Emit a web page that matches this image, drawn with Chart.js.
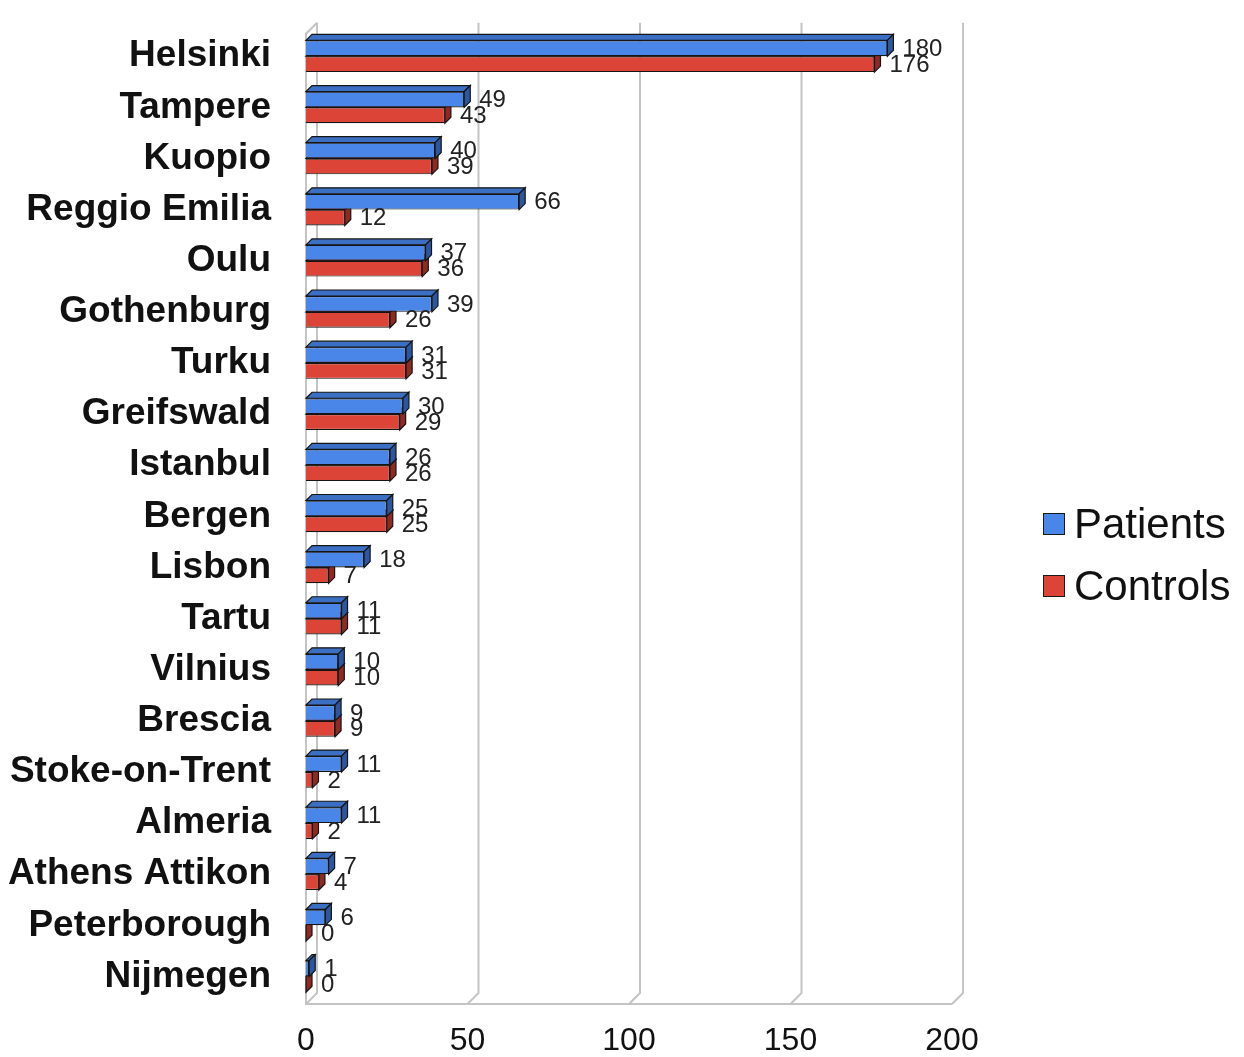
<!DOCTYPE html>
<html>
<head>
  <meta charset="UTF-8">
  <title>Patients and controls per centre</title>
  <script src="https://cdn.jsdelivr.net/npm/chart.js"></script>
  <style>
    body { margin: 0; background: #fff; }
    #wrap { position: relative; width: 1244px; height: 1057px; }
    .leg { position: absolute; left: 1043px; font: 42px "Liberation Sans", Arial, sans-serif; color: #111; display: flex; align-items: center; }
    .leg span { display: inline-block; width: 20px; height: 20px; border: 1.5px solid #1a1a1a; margin-right: 9px; }
  </style>
</head>
<body>
  <div id="wrap">
    <canvas id="chart" width="1244" height="1057"></canvas>
    <div class="leg" style="top:500px"><span style="background:#4a86e8"></span>Patients</div>
    <div class="leg" style="top:562px"><span style="background:#dc4437"></span>Controls</div>
  </div>
  <script>
    // datos
    const centros = ["Helsinki", "Tampere", "Kuopio", "Reggio Emilia", "Oulu", "Gothenburg", "Turku",
      "Greifswald", "Istanbul", "Bergen", "Lisbon", "Tartu", "Vilnius", "Brescia", "Stoke-on-Trent",
      "Almeria", "Athens Attikon", "Peterborough", "Nijmegen"];
    const patients = [180, 49, 40, 66, 37, 39, 31, 30, 26, 25, 18, 11, 10, 9, 11, 11, 7, 6, 1];
    const controls = [176, 43, 39, 12, 36, 26, 31, 29, 26, 25, 7, 11, 10, 9, 2, 2, 4, 0, 0];
    const xTicks = [0, 50, 100, 150, 200];

    const D = 6;      // profundidad de las barras
    const W = 11;     // profundidad de la pared del fondo

    // pared del fondo y lineas de la rejilla
    const pared = {
      id: "pared",
      beforeDatasetsDraw(chart) {
        const ctx = chart.ctx, x = chart.scales.x, a = chart.chartArea;
        const top = a.top - 8, bot = a.bottom + 2;
        ctx.save();
        ctx.strokeStyle = "#c4c4c4";
        ctx.lineWidth = 2;
        xTicks.forEach(v => {
          const px = x.getPixelForValue(v);
          ctx.beginPath();
          ctx.moveTo(px + W, top);
          ctx.lineTo(px + W, bot - W);
          ctx.lineTo(px, bot);
          ctx.stroke();
        });
        // borde izquierdo y suelo
        const x0 = x.getPixelForValue(0), x1 = x.getPixelForValue(200);
        ctx.beginPath();
        ctx.moveTo(x0 + W, top);
        ctx.lineTo(x0, top + W);
        ctx.lineTo(x0, bot);
        ctx.lineTo(x1, bot);
        ctx.stroke();
        ctx.restore();
      }
    };

    // caras laterales y superiores de cada barra
    const barras3d = {
      id: "barras3d",
      afterDatasetDraw(chart, args) {
        const ds = chart.data.datasets[args.index];
        const ctx = chart.ctx;
        ctx.save();
        ctx.lineWidth = 1.2;
        ctx.strokeStyle = "#151515";
        args.meta.data.forEach(el => {
          const p = el.getProps(["x", "y", "base", "height"], true);
          const t = p.y - p.height / 2, b = p.y + p.height / 2;
          ctx.fillStyle = ds.topColor;
          ctx.beginPath();
          ctx.moveTo(p.base, t);
          ctx.lineTo(p.base + D, t - D);
          ctx.lineTo(p.x + D, t - D);
          ctx.lineTo(p.x, t);
          ctx.closePath();
          ctx.fill(); ctx.stroke();
          ctx.fillStyle = ds.sideColor;
          ctx.beginPath();
          ctx.moveTo(p.x, t);
          ctx.lineTo(p.x + D, t - D);
          ctx.lineTo(p.x + D, b - D);
          ctx.lineTo(p.x, b);
          ctx.closePath();
          ctx.fill(); ctx.stroke();
        });
        ctx.restore();
      },
      afterDatasetsDraw(chart) {
        const ctx = chart.ctx;
        ctx.save();
        ctx.font = '24px "Liberation Sans", Arial, sans-serif';
        ctx.fillStyle = "#222";
        ctx.textBaseline = "middle";
        chart.data.datasets.forEach((ds, i) => {
          chart.getDatasetMeta(i).data.forEach((el, j) => {
            ctx.fillText(String(ds.data[j]), el.x + D + 9, el.y + 1);
          });
        });
        ctx.restore();
      }
    };

    new Chart(document.getElementById("chart"), {
      type: "bar",
      data: {
        labels: centros,
        datasets: [
          { label: "Patients", data: patients, backgroundColor: "#4a86e8", topColor: "#3b6fc4",
            sideColor: "#2d56a0", borderColor: "#151515", borderWidth: 1.2,
            categoryPercentage: 0.62, barPercentage: 1.0 },
          { label: "Controls", data: controls, backgroundColor: "#dc4437", topColor: "#b8362b",
            sideColor: "#8e2a22", borderColor: "#151515", borderWidth: 1.2,
            categoryPercentage: 0.62, barPercentage: 1.0 }
        ]
      },
      options: {
        indexAxis: "y",
        responsive: false,
        animation: false,
        devicePixelRatio: 1,
        layout: { padding: { left: 0, top: 13, right: 292, bottom: 0 } },
        plugins: { legend: { display: false }, tooltip: { enabled: false } },
        scales: {
          x: {
            min: 0, max: 200,
            afterBuildTicks: axis => { axis.ticks = xTicks.map(v => ({ value: v })); },
            afterFit: axis => { axis.height = 55; },
            grid: { display: false },
            border: { display: false },
            ticks: { padding: 15, color: "#111", font: { family: "Liberation Sans, Arial", size: 32, lineHeight: 1 } }
          },
          y: {
            afterFit: axis => { axis.width = 306; },
            grid: { display: false },
            border: { display: false },
            ticks: { padding: 27, color: "#111", font: { family: "Liberation Sans, Arial", size: 37, weight: "bold", lineHeight: 0.2 } }
          }
        }
      },
      plugins: [pared, barras3d]
    });
  </script>
</body>
</html>
